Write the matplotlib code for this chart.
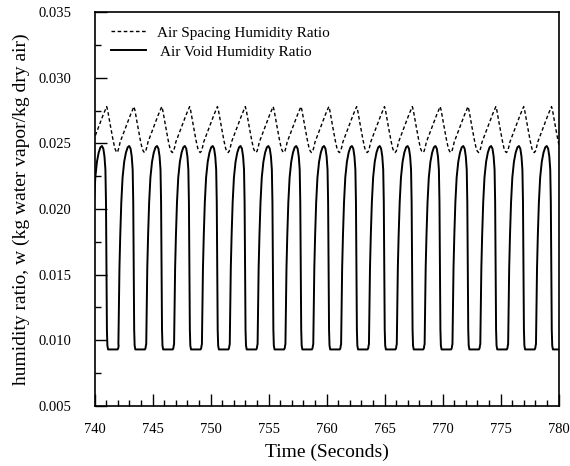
import numpy as np
import matplotlib.pyplot as plt
from matplotlib.ticker import MultipleLocator, FormatStrFormatter

# Air void humidity ratio: start time of each rise (s)
void_rise_times = [739.70, 742.05, 744.45, 746.85, 749.25, 751.65, 754.05, 756.45,
                   758.85, 761.25, 763.65, 766.05, 768.45, 770.85, 773.25, 775.65,
                   778.05]
# one cycle of the void curve: time after the rise (s) and humidity ratio
void_offset = [0.00, 0.04, 0.09, 0.16, 0.25, 0.36, 0.50, 0.65, 0.80, 0.93, 1.05,
               1.15, 1.23, 1.28, 1.32, 1.36, 1.40, 1.46, 2.28, 2.34, 2.37]
void_w = [0.0097, 0.0125, 0.0155, 0.0180, 0.0205, 0.0224, 0.0236, 0.0243, 0.0247,
          0.0248, 0.0246, 0.0240, 0.0230, 0.0205, 0.0150, 0.0108, 0.0096, 0.0093,
          0.0093, 0.0094, 0.0096]

# Air spacing humidity ratio: time of each trough (s)
spacing_trough_times = [739.55, 741.90, 744.30, 746.70, 749.10, 751.50, 753.90,
                        756.30, 758.70, 761.10, 763.50, 765.90, 768.30, 770.70,
                        773.10, 775.50, 777.90]
# one cycle of the spacing curve: time after the trough (s) and humidity ratio
spacing_offset = [0.00, 0.10, 0.20, 0.30, 0.60, 0.90, 1.20, 1.40, 1.49, 1.58,
                  1.80, 2.05, 2.20, 2.30]
spacing_w = [0.0243, 0.0244, 0.0247, 0.0251, 0.0258, 0.0265, 0.0272, 0.0276,
             0.0278, 0.0275, 0.0264, 0.0252, 0.0246, 0.0244]


def build_series(starts, offsets, values):
    t = np.concatenate([s + np.array(offsets) for s in starts])
    w = np.tile(values, len(starts))
    return t, w


t_void, w_void = build_series(void_rise_times, void_offset, void_w)
t_space, w_space = build_series(spacing_trough_times, spacing_offset, spacing_w)

plt.rcParams['font.family'] = ['Liberation Serif', 'DejaVu Serif']

fig = plt.figure(figsize=(5.7, 4.66), dpi=100)
ax = fig.add_axes([0.166, 0.129, 0.814, 0.845])

ax.plot(t_space, w_space, color='black', linewidth=1.0,
        linestyle=(0, (2.6, 1.8)), label='Air Spacing Humidity Ratio')
ax.plot(t_void, w_void, color='black', linewidth=1.4,
        label=' Air Void Humidity Ratio')

ax.set_xlim(740, 780)
ax.set_ylim(0.005, 0.035)
ax.xaxis.set_major_locator(MultipleLocator(5))
ax.xaxis.set_minor_locator(MultipleLocator(1))
ax.yaxis.set_major_locator(MultipleLocator(0.005))
ax.yaxis.set_minor_locator(MultipleLocator(0.0025))
ax.yaxis.set_major_formatter(FormatStrFormatter('%.3f'))

ax.tick_params(which='both', direction='in', top=False, right=False, width=1)
ax.tick_params(which='major', length=8.5)
ax.tick_params(which='minor', length=4.3)
ax.tick_params(axis='x', which='major', labelsize=10.5, pad=12)
ax.tick_params(axis='y', which='major', labelsize=10.5, pad=17)
for sp in ax.spines.values():
    sp.set_linewidth(1.2)

ax.set_xlabel('Time (Seconds)', fontsize=14, labelpad=6)
ax.set_ylabel('humidity ratio, w (kg water vapor/kg dry air)', fontsize=14, labelpad=6)

ax.legend(loc='upper left', bbox_to_anchor=(0.005, 1.0), frameon=False, fontsize=11,
          handlelength=2.3, handletextpad=0.75, labelspacing=0.35)

fig.savefig('out.png', dpi=100)
